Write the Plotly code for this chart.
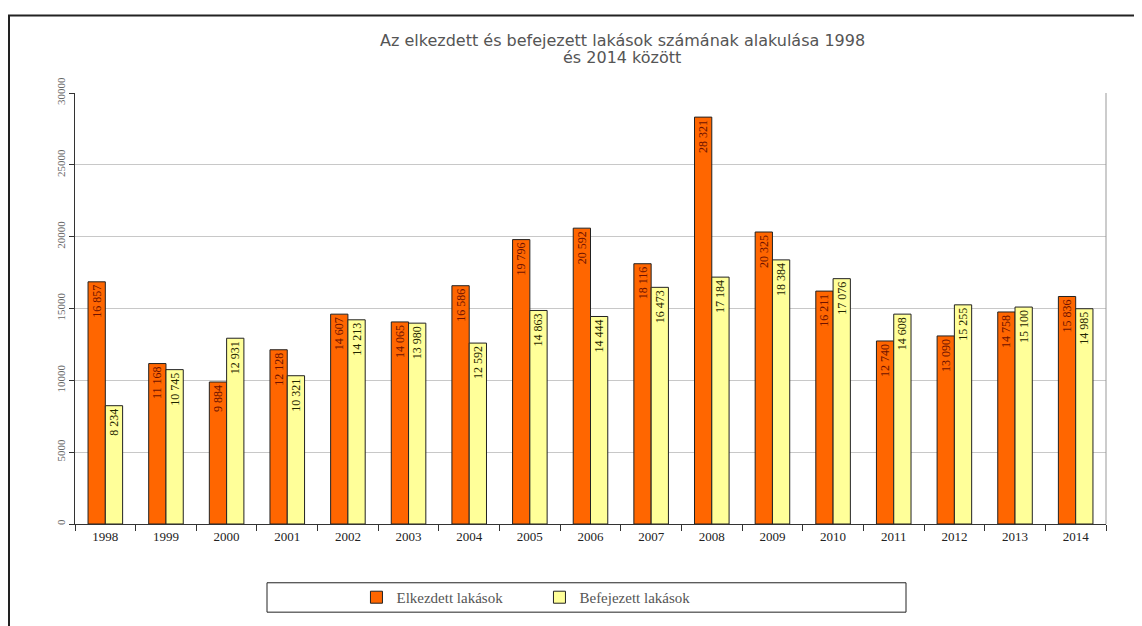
import plotly.graph_objects as go

years = [str(y) for y in range(1998, 2015)]
elkezdett = [16857, 11168, 9884, 12128, 14607, 14065, 16586, 19796, 20592,
             18116, 28321, 20325, 16211, 12740, 13090, 14758, 15836]
befejezett = [8234, 10745, 12931, 10321, 14213, 13980, 12592, 14863, 14444,
              16473, 17184, 18384, 17076, 14608, 15255, 15100, 14985]
title_lines = ["Az elkezdett és befejezett lakások számának alakulása 1998",
               "és 2014 között"]


def fmt(vals):
    return [f"{v:,}".replace(",", " ") for v in vals]


serif = "Liberation Serif, Times New Roman, serif"

fig = go.Figure()
fig.add_trace(go.Bar(
    x=years, y=elkezdett, name="Elkezdett lakások",
    marker=dict(color="#FF6600", line=dict(color="#222222", width=1)),
    text=fmt(elkezdett), textposition="inside", insidetextanchor="end",
    textangle=-90, textfont=dict(family=serif, size=12, color="#6e1200"),
))
fig.add_trace(go.Bar(
    x=years, y=befejezett, name="Befejezett lakások",
    marker=dict(color="#FFFF99", line=dict(color="#222222", width=1)),
    text=fmt(befejezett), textposition="inside", insidetextanchor="end",
    textangle=-90, textfont=dict(family=serif, size=12, color="#1f2600"),
))

# page body adds 8px margin, so figure is 8px smaller than window
W, H = 1134, 618
L, R, T, B = 67, 36, 85, 93
pw, ph = W - L - R, H - T - B


def py(fig_y):
    # figure pixel y -> paper y
    return ((H - B) - fig_y) / ph


fig.update_layout(
    width=W, height=H,
    paper_bgcolor="white", plot_bgcolor="white",
    margin=dict(l=L, r=R, t=T, b=B),
    barmode="group", bargap=0.43, bargroupgap=0,
    uniformtext=dict(minsize=12, mode="show"),
    legend=dict(
        orientation="h", x=0.273, xanchor="left", y=py(600), yanchor="middle",
        font=dict(family=serif, size=15, color="#555555"),
        bgcolor="rgba(0,0,0,0)", entrywidth=138, traceorder="normal",
    ),
    showlegend=True,
)

title_font = dict(family="DejaVu Sans, Verdana, sans-serif", size=16,
                  color="#555555")
for line, ypix in zip(title_lines, [31, 49]):
    fig.add_annotation(text=line, xref="paper", yref="paper",
                       x=(614 - L) / pw, y=py(ypix), xanchor="center",
                       yanchor="middle", showarrow=False, font=title_font)

fig.update_xaxes(
    type="category", showline=True, linecolor="#333333", linewidth=1,
    ticks="outside", tickson="boundaries", ticklen=6, tickcolor="#333333",
    tickfont=dict(family=serif, size=13, color="#222222"),
    showgrid=False,
)
fig.update_yaxes(
    range=[0, 30000], dtick=5000, tickformat="d",
    showline=True, linecolor="#333333", linewidth=1,
    ticks="outside", ticklen=5, tickcolor="#333333",
    tickangle=-90, tickfont=dict(family=serif, size=11, color="#666666"),
    showgrid=True, gridcolor="#c8c8c8", gridwidth=1, zeroline=False,
)

# right border of plot area
fig.add_shape(type="line", xref="paper", yref="paper", x0=1, x1=1, y0=0, y1=1,
              line=dict(color="#999999", width=1))
# legend box
fig.add_shape(type="rect", xref="paper", yref="paper",
              x0=(259 - L) / pw, x1=(898 - L) / pw,
              y0=py(615), y1=py(585),
              line=dict(color="#222222", width=1))
# outer frame
fig.add_shape(type="rect", xref="paper", yref="paper",
              x0=(1 - L) / pw, x1=(W + 20 - L) / pw,
              y0=py(H + 20), y1=py(6),
              line=dict(color="#222222", width=2))

fig.write_html("out.html")
